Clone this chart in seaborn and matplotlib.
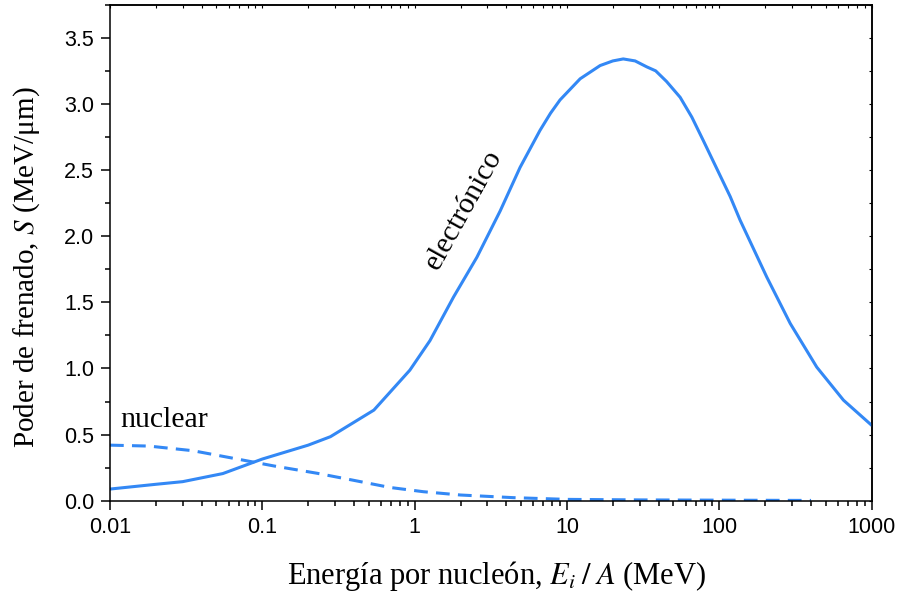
import seaborn as sns
import matplotlib
matplotlib.use("Agg")
import matplotlib.pyplot as plt
from matplotlib.ticker import FixedLocator, LogLocator, NullFormatter, MultipleLocator
import numpy as np
import pandas as pd

#### data
energia_elec = [0.01, 0.02, 0.03, 0.055, 0.1, 0.2, 0.28, 0.54, 0.93, 1.26, 1.8, 2.56,
                3.64, 4.92, 6.65, 7.8, 9.0, 12.2, 16.5, 20, 23.4, 28, 33.4, 38.2, 45,
                55.3, 66, 78.7, 117.8, 137, 205, 292, 436, 653, 1000]
S_elec = [0.088, 0.124, 0.144, 0.205, 0.315, 0.42, 0.484, 0.685, 0.987, 1.21, 1.54, 1.84,
          2.19, 2.52, 2.80, 2.93, 3.03, 3.19, 3.29, 3.325, 3.34, 3.325, 3.28, 3.25, 3.17,
          3.05, 2.90, 2.72, 2.30, 2.12, 1.69, 1.34, 1.01, 0.76, 0.57]

energia_nuc = [0.01, 0.018, 0.035, 0.065, 0.12, 0.23, 0.39, 0.69, 1.14, 2.0, 4.45, 10,
               30, 100, 400]
S_nuc = [0.42, 0.413, 0.378, 0.32, 0.262, 0.207, 0.156, 0.10, 0.068, 0.043, 0.023, 0.01,
         0.006, 0.004, 0.002]

xticks = [0.01, 0.1, 1, 10, 100, 1000]
xticklabels = ["0.01", "0.1", "1", "10", "100", "1000"]
azul = "#3388f5"
##################

sns.set_style("ticks")
plt.rcParams['font.family'] = ['Liberation Sans', 'DejaVu Sans']
plt.rcParams['mathtext.fontset'] = 'stix'
for k in ['text.color', 'axes.labelcolor', 'xtick.color', 'ytick.color', 'axes.edgecolor']:
    plt.rcParams[k] = 'black'

df_e = pd.DataFrame({"E": energia_elec, "S": S_elec})
df_n = pd.DataFrame({"E": energia_nuc, "S": S_nuc})

fig = plt.figure(figsize=(9.03, 5.96), dpi=100)
ax = fig.add_axes([0.1218, 0.1599, 0.8435, 0.8322])

sns.lineplot(data=df_e, x="E", y="S", ax=ax, color=azul, lw=2.2)
sns.lineplot(data=df_n, x="E", y="S", ax=ax, color=azul, lw=2.2)
ax.lines[-1].set_dashes([4.5, 2.7])

ax.set_xscale("log")
ax.set_xlim(0.01, 1000)
ax.set_ylim(0, 3.75)

ax.xaxis.set_major_locator(FixedLocator(xticks))
ax.set_xticklabels(xticklabels)
ax.xaxis.set_minor_locator(LogLocator(base=10, subs=np.arange(2, 10)))
ax.xaxis.set_minor_formatter(NullFormatter())
ax.set_yticks(np.arange(0, 3.6, 0.5))
ax.set_yticklabels(["%.1f" % v for v in np.arange(0, 3.6, 0.5)])
ax.yaxis.set_minor_locator(MultipleLocator(0.25))

ax.tick_params(which="major", direction="out", length=6.5, width=1.1, labelsize=15.5,
               pad=5, top=False, right=False)
ax.tick_params(which="minor", direction="out", length=3.5, width=1.1,
               top=False, right=False)
for s in ax.spines.values():
    s.set_linewidth(1.1)

# small inward ticks on top and right
sec_x = ax.secondary_xaxis("top")
sec_x.xaxis.set_major_locator(FixedLocator(xticks))
sec_x.xaxis.set_minor_locator(LogLocator(base=10, subs=np.arange(2, 10)))
sec_x.xaxis.set_major_formatter(NullFormatter())
sec_x.xaxis.set_minor_formatter(NullFormatter())
sec_x.tick_params(which="both", direction="in", length=2.5, width=0.8)
sec_y = ax.secondary_yaxis("right")
sec_y.yaxis.set_major_locator(MultipleLocator(0.25))
sec_y.yaxis.set_major_formatter(NullFormatter())
sec_y.tick_params(which="both", direction="in", length=2.5, width=0.8)
sec_y.spines["right"].set_linewidth(1.1)
sec_x.spines["top"].set_linewidth(1.1)

serif = ['Liberation Serif', 'DejaVu Serif']
ax.set_xlabel(r"Energía por nucleón, $E_i\;/\;A$ (MeV)", family=serif, fontsize=22)
ax.set_ylabel(r"Poder de frenado, $S$ (MeV/μm)", family=serif, fontsize=21)
ax.xaxis.set_label_coords(0.508, -0.117)
ax.yaxis.set_label_coords(-0.089, 0.471)

ax.text(0.0116, 0.56, "nuclear", family=serif, fontsize=21.5, ha="left", va="baseline")
ax.text(2.1, 2.2, "electrónico", family=serif, fontsize=21.5, rotation=61,
        rotation_mode="anchor", ha="center", va="center")

plt.savefig("out.png", dpi=100)
